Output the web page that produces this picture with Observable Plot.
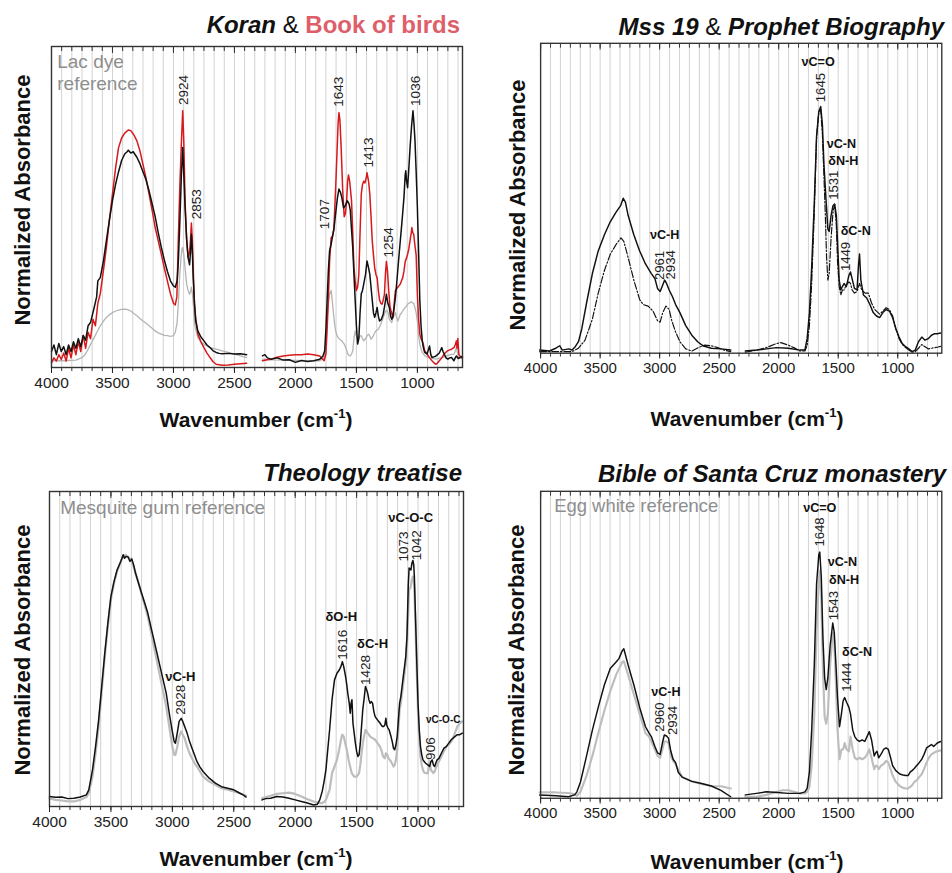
<!DOCTYPE html>
<html><head><meta charset="utf-8">
<script src="https://cdn.jsdelivr.net/npm/d3@7"></script>
<script src="https://cdn.jsdelivr.net/npm/@observablehq/plot@0.6"></script>
<style>
html,body{margin:0;padding:0;overflow:hidden;background:#fff;}
#root{position:relative;width:952px;height:873px;overflow:hidden;font-family:"Liberation Sans",Arial,sans-serif;color:#111;}
.title{position:absolute;font-weight:bold;font-style:italic;font-size:24px;white-space:nowrap;line-height:1;}
.title .amp{font-weight:normal;font-style:normal;}
.title .red{color:#de5f69;font-style:normal;}
.xtitle{position:absolute;font-weight:bold;font-size:21px;white-space:nowrap;line-height:1;transform:translate(-50%,-50%);}
.xtitle sup{font-size:13px;vertical-align:9px;line-height:0;}
.ytitle{position:absolute;font-weight:bold;font-size:22px;white-space:nowrap;line-height:1;transform:translate(-50%,-50%) rotate(-90deg);}
.panel{position:absolute;}
</style></head><body><div id="root"></div>
<script>
// ---------- ticks ----------
const majorTicks = [4000, 3500, 3000, 2500, 2000, 1500, 1000];
const minorTicks = d3.range(4000, 625, -500 / 6);
const tickLabels = majorTicks.map(String);

// ---------- Panel 1: Koran & Book of birds (wavenumber, normalized absorbance) ----------
const koran = [[4000,.05],[3980,.07],[3960,.04],[3940,.075],[3920,.05],[3900,.065],[3880,.04],[3860,.07],[3840,.05],[3820,.08],[3800,.06],[3780,.09],[3760,.065],[3740,.1],[3720,.085],[3700,.13],[3680,.14],[3650,.187],[3630,.22],[3620,.27],[3600,.28],[3575,.33],[3550,.395],[3525,.46],[3500,.52],[3475,.57],[3450,.61],[3425,.645],[3400,.665],[3380,.672],[3370,.677],[3350,.668],[3330,.672],[3300,.655],[3275,.635],[3250,.61],[3225,.585],[3200,.55],[3175,.51],[3150,.47],[3125,.42],[3100,.375],[3075,.335],[3050,.30],[3025,.27],[3000,.254],[2985,.25],[2970,.27],[2960,.33],[2948,.45],[2935,.6],[2924,.685],[2915,.6],[2905,.5],[2892,.4],[2880,.343],[2868,.32],[2860,.36],[2853,.415],[2846,.37],[2838,.28],[2828,.2],[2818,.145],[2800,.114],[2775,.095],[2750,.083],[2725,.07],[2700,.062],[2675,.052],[2650,.047],[2625,.044],[2600,.043],[2550,.044],[2500,.042],[2450,.043],[2400,.040],
 [2270,.036],[2250,.04],[2230,.03],[2200,.026],[2150,.03],[2100,.023],[2050,.024],[2000,.016],[1950,.022],[1900,.019],[1850,.021],[1800,.026],[1775,.035],[1760,.052],[1750,.12],[1740,.21],[1730,.3],[1720,.363],[1707,.384],[1695,.41],[1685,.43],[1670,.48],[1655,.53],[1643,.556],[1630,.545],[1620,.53],[1605,.497],[1590,.505],[1575,.52],[1560,.51],[1550,.49],[1540,.43],[1530,.374],[1520,.29],[1510,.21],[1500,.13],[1490,.073],[1480,.09],[1470,.17],[1460,.23],[1450,.24],[1440,.26],[1425,.29],[1413,.332],[1400,.31],[1390,.29],[1380,.25],[1370,.21],[1360,.17],[1350,.156],[1340,.17],[1330,.187],[1320,.16],[1310,.145],[1295,.15],[1280,.166],[1265,.2],[1254,.228],[1242,.2],[1230,.187],[1220,.16],[1210,.15],[1200,.16],[1190,.187],[1180,.22],[1170,.26],[1155,.33],[1140,.395],[1125,.46],[1110,.53],[1100,.6],[1095,.613],[1088,.58],[1080,.56],[1070,.62],[1060,.685],[1048,.75],[1036,.80],[1028,.76],[1020,.71],[1010,.61],[1000,.5],[990,.36],[980,.21],[970,.13],[960,.083],[950,.06],[940,.047],[920,.042],[910,.055],[900,.067],[890,.04],[880,.031],[865,.033],[850,.035],[835,.04],[820,.045],[800,.062],[790,.05],[780,.042],[765,.03],[750,.026],[735,.03],[720,.031],[700,.021],[690,.03],[680,.036],[665,.028],[650,.031],[630,.035]];
const birds = [[4000,.015],[3980,.03],[3960,.02],[3940,.04],[3920,.025],[3900,.045],[3880,.02],[3860,.06],[3840,.03],[3820,.07],[3800,.04],[3780,.08],[3760,.05],[3740,.1],[3720,.06],[3700,.11],[3680,.09],[3660,.15],[3640,.13],[3620,.2],[3600,.23],[3575,.3],[3550,.374],[3525,.46],[3500,.54],[3475,.62],[3450,.685],[3425,.715],[3400,.73],[3370,.74],[3350,.738],[3325,.725],[3300,.706],[3275,.675],[3250,.633],[3225,.59],[3200,.54],[3175,.49],[3150,.436],[3125,.395],[3100,.353],[3075,.31],[3050,.27],[3025,.23],[3000,.2],[2985,.195],[2972,.22],[2960,.4],[2948,.56],[2935,.7],[2924,.80],[2915,.7],[2905,.52],[2892,.4],[2880,.343],[2868,.36],[2860,.4],[2853,.45],[2846,.4],[2838,.3],[2828,.2],[2818,.156],[2800,.104],[2775,.08],[2750,.062],[2725,.045],[2700,.031],[2675,.018],[2650,.01],[2600,.007],[2550,.008],[2500,.01],[2450,.012],[2400,.013],
 [2270,.021],[2230,.024],[2200,.026],[2150,.032],[2100,.036],[2050,.038],[2000,.04],[1950,.04],[1900,.042],[1850,.04],[1800,.036],[1775,.025],[1765,.021],[1750,.042],[1740,.12],[1730,.21],[1720,.33],[1707,.404],[1695,.41],[1685,.43],[1670,.56],[1658,.68],[1650,.76],[1643,.794],[1635,.77],[1625,.685],[1612,.55],[1600,.47],[1590,.48],[1580,.52],[1572,.58],[1565,.6],[1555,.58],[1550,.56],[1540,.52],[1530,.42],[1520,.31],[1510,.27],[1500,.24],[1490,.25],[1480,.29],[1470,.42],[1460,.54],[1450,.57],[1440,.58],[1430,.575],[1420,.59],[1413,.607],[1400,.58],[1390,.54],[1380,.47],[1370,.395],[1360,.35],[1350,.31],[1340,.29],[1330,.28],[1320,.24],[1310,.21],[1300,.2],[1290,.197],[1280,.21],[1270,.228],[1262,.29],[1254,.33],[1245,.3],[1235,.24],[1225,.19],[1215,.175],[1200,.155],[1190,.2],[1180,.24],[1170,.245],[1160,.25],[1150,.255],[1140,.26],[1130,.27],[1120,.28],[1110,.3],[1100,.33],[1090,.34],[1080,.353],[1070,.37],[1060,.395],[1050,.42],[1045,.436],[1038,.42],[1030,.415],[1020,.38],[1010,.35],[1000,.228],[990,.15],[980,.104],[970,.09],[960,.083],[950,.07],[940,.052],[920,.042],[900,.03],[880,.021],[865,.015],[850,.01],[835,.014],[820,.021],[800,.03],[780,.042],[760,.05],[740,.054],[720,.057],[700,.062],[690,.07],[680,.083],[675,.06],[668,.09],[660,.042],[650,.035],[640,.03],[630,.03]];
const lacDye = [[4000,.021],[3900,.021],[3800,.023],[3750,.031],[3725,.04],[3700,.057],[3675,.075],[3650,.093],[3625,.112],[3600,.13],[3575,.144],[3550,.156],[3525,.164],[3500,.171],[3475,.176],[3450,.179],[3425,.181],[3400,.182],[3375,.18],[3350,.176],[3325,.168],[3300,.161],[3275,.153],[3250,.145],[3225,.138],[3200,.13],[3175,.122],[3150,.114],[3125,.108],[3100,.104],[3075,.1],[3050,.099],[3025,.097],[3000,.099],[2985,.11],[2970,.14],[2960,.2],[2950,.28],[2940,.333],[2930,.37],[2924,.374],[2915,.35],[2905,.31],[2892,.26],[2880,.24],[2868,.228],[2860,.235],[2853,.25],[2846,.235],[2838,.2],[2828,.14],[2818,.12],[2800,.093],[2775,.08],[2750,.073],[2700,.062],[2650,.057],[2600,.052],[2550,.047],[2500,.042],[2450,.036],[2400,.031],
 [2270,.026],[2200,.024],[2100,.023],[2000,.022],[1900,.021],[1800,.021],[1770,.028],[1760,.042],[1750,.09],[1740,.155],[1730,.2],[1720,.228],[1707,.24],[1698,.21],[1690,.176],[1680,.14],[1670,.114],[1660,.1],[1650,.093],[1635,.087],[1620,.083],[1600,.073],[1585,.06],[1570,.042],[1560,.037],[1550,.036],[1540,.042],[1530,.052],[1520,.09],[1510,.114],[1500,.099],[1490,.093],[1480,.093],[1470,.098],[1460,.099],[1450,.09],[1440,.083],[1430,.088],[1420,.093],[1410,.1],[1400,.104],[1390,.098],[1380,.088],[1370,.093],[1360,.099],[1350,.108],[1340,.114],[1320,.119],[1300,.135],[1280,.156],[1270,.166],[1260,.176],[1250,.178],[1240,.171],[1230,.15],[1220,.145],[1210,.14],[1200,.156],[1190,.163],[1180,.171],[1170,.155],[1160,.145],[1150,.155],[1140,.166],[1130,.17],[1120,.176],[1110,.182],[1100,.187],[1090,.19],[1080,.197],[1070,.2],[1060,.202],[1050,.205],[1040,.202],[1030,.199],[1020,.187],[1010,.17],[1000,.145],[990,.1],[980,.073],[970,.058],[960,.047],[940,.037],[920,.033],[900,.031],[850,.026],[800,.031],[760,.036],[730,.04],[700,.042],[690,.05],[680,.062],[670,.045],[660,.032],[650,.031],[630,.03]];
const koranPeaks = [[2920,.818,"2924"],[2810,.462,"2853"],[1760,.431,"1707"],[1642,.812,"1643"],[1396,.623,"1413"],[1232,.343,"1254"],[1013,.815,"1036"]];
const koranRef = [[3953,.92,"Lac dye\nreference"]];

// ---------- Panel 2: Mss 19 (solid) & Prophet Biography (dash-dot) ----------
const mss19 = [[4008,.01],[3926,.007],[3872,.016],[3839,.024],[3818,.01],[3763,.014],[3736,.01],[3709,.021],[3682,.037],[3654,.079],[3614,.162],[3565,.257],[3516,.33],[3464,.382],[3415,.424],[3366,.455],[3328,.476],[3306,.50],[3287,.487],[3265,.445],[3217,.382],[3168,.33],[3119,.288],[3070,.257],[3040,.241],[3018,.209],[2996,.199],[2974,.22],[2958,.236],[2942,.225],[2920,.204],[2893,.183],[2866,.157],[2830,.131],[2781,.089],[2730,.058],[2681,.037],[2632,.023],[2566,.016],[2485,.014],[2403,.01],
 [2281,.007],[2186,.01],[2104,.014],[2020,.018],[1919,.016],[1821,.01],[1780,.01],[1761,.047],[1742,.13],[1723,.277],[1701,.487],[1682,.70],[1663,.78],[1647,.796],[1633,.738],[1620,.61],[1601,.487],[1587,.40],[1576,.393],[1560,.445],[1544,.476],[1530,.481],[1516,.445],[1506,.36],[1492,.236],[1478,.204],[1465,.215],[1451,.225],[1432,.215],[1410,.251],[1397,.262],[1383,.24],[1364,.209],[1342,.204],[1329,.288],[1321,.32],[1310,.236],[1288,.188],[1261,.178],[1234,.157],[1206,.131],[1179,.12],[1152,.115],[1125,.131],[1098,.141],[1070,.136],[1043,.115],[1016,.079],[989,.052],[962,.031],[934,.021],[907,.014],[880,.005],[853,.01],[826,.037],[798,.052],[771,.042],[744,.047],[717,.058],[690,.063],[668,.063],[640,.065]];
const prophet = [[4008,.005],[3790,.005],[3736,.005],[3682,.016],[3627,.042],[3565,.11],[3516,.194],[3464,.267],[3415,.319],[3366,.351],[3325,.372],[3301,.361],[3265,.309],[3217,.236],[3168,.173],[3138,.157],[3097,.152],[3056,.136],[3018,.105],[2996,.1],[2974,.131],[2947,.152],[2920,.141],[2898,.105],[2866,.068],[2830,.037],[2781,.014],[2730,.007],[2675,.018],[2621,.026],[2566,.024],[2512,.018],[2458,.01],[2403,.005],
 [2281,.003],[2186,.01],[2104,.018],[2020,.031],[1982,.034],[1919,.026],[1873,.018],[1821,.007],[1780,.007],[1761,.026],[1742,.089],[1723,.225],[1701,.455],[1682,.696],[1663,.78],[1647,.785],[1633,.707],[1620,.57],[1609,.455],[1598,.31],[1587,.236],[1576,.257],[1560,.372],[1544,.455],[1530,.481],[1516,.414],[1506,.298],[1492,.215],[1478,.188],[1465,.204],[1451,.204],[1432,.22],[1410,.23],[1397,.225],[1383,.204],[1364,.194],[1342,.199],[1321,.225],[1302,.204],[1274,.194],[1247,.194],[1220,.162],[1193,.141],[1152,.126],[1125,.136],[1098,.147],[1070,.141],[1043,.12],[1016,.079],[989,.047],[962,.028],[934,.018],[907,.01],[880,.003],[853,.005],[826,.016],[798,.028],[771,.021],[744,.014],[717,.016],[690,.018],[660,.02],[640,.022]];
const mssPeaks = [[1647,.81,"1645"],[1533,.495,"1531"],[1438,.265,"1449"],[3002,.236,"2961"],[2906,.238,"2934"]];
const mssBands = [[1669,.94,"νC=O"],[1473,.675,"νC-N"],[1457,.62,"δN-H"],[1353,.396,"δC-N"],[2958,.38,"νC-H"]];

// ---------- Panel 3: Theology treatise (black) & Mesquite gum reference (grey) ----------
const theology = [[4000,.032],[3950,.029],[3900,.03],[3850,.025],[3800,.026],[3750,.03],[3700,.037],[3680,.053],[3650,.116],[3625,.19],[3600,.275],[3575,.381],[3550,.487],[3525,.582],[3500,.667],[3475,.714],[3450,.751],[3420,.778],[3400,.799],[3390,.788],[3375,.794],[3360,.792],[3345,.778],[3330,.786],[3315,.767],[3300,.741],[3275,.709],[3250,.677],[3225,.646],[3200,.614],[3175,.571],[3150,.529],[3125,.487],[3100,.444],[3075,.402],[3050,.36],[3025,.296],[3000,.238],[2985,.206],[2975,.201],[2960,.233],[2945,.27],[2928,.28],[2915,.27],[2900,.254],[2880,.233],[2860,.206],[2840,.185],[2820,.164],[2800,.143],[2775,.125],[2750,.111],[2700,.09],[2650,.074],[2600,.063],[2550,.058],[2500,.053],[2450,.042],[2420,.036],[2400,.03],
 [2270,.021],[2240,.025],[2200,.026],[2150,.032],[2100,.03],[2050,.026],[2000,.021],[1950,.016],[1900,.011],[1850,.005],[1820,.007],[1800,.021],[1780,.048],[1765,.079],[1750,.116],[1735,.18],[1720,.243],[1700,.339],[1680,.402],[1660,.423],[1640,.434],[1628,.444],[1616,.46],[1605,.444],[1590,.413],[1580,.386],[1570,.354],[1560,.328],[1552,.296],[1545,.328],[1538,.339],[1530,.265],[1520,.233],[1510,.201],[1500,.175],[1490,.159],[1480,.164],[1470,.201],[1460,.254],[1450,.307],[1440,.339],[1428,.381],[1418,.37],[1410,.36],[1400,.339],[1390,.328],[1380,.333],[1370,.328],[1360,.302],[1350,.286],[1340,.28],[1330,.275],[1320,.27],[1310,.265],[1300,.259],[1290,.254],[1280,.254],[1270,.259],[1262,.28],[1255,.259],[1245,.249],[1235,.243],[1220,.222],[1210,.206],[1200,.185],[1190,.18],[1180,.196],[1170,.222],[1160,.275],[1150,.328],[1140,.349],[1130,.381],[1120,.413],[1110,.444],[1100,.476],[1090,.54],[1080,.698],[1073,.757],[1065,.754],[1058,.751],[1050,.772],[1042,.781],[1035,.767],[1030,.73],[1020,.593],[1010,.455],[1000,.328],[990,.243],[980,.19],[970,.164],[960,.148],[950,.143],[940,.138],[920,.132],[906,.127],[895,.143],[885,.148],[875,.132],[865,.127],[855,.138],[845,.148],[830,.153],[810,.169],[790,.185],[770,.19],[750,.201],[730,.212],[715,.217],[700,.222],[680,.228],[660,.228],[640,.233]];
const mesquite = [[4000,.026],[3950,.021],[3900,.019],[3850,.016],[3800,.016],[3750,.021],[3700,.03],[3680,.042],[3650,.095],[3625,.169],[3600,.254],[3575,.365],[3550,.476],[3525,.571],[3500,.656],[3475,.709],[3450,.746],[3425,.772],[3400,.794],[3380,.799],[3360,.792],[3340,.786],[3320,.767],[3300,.741],[3275,.709],[3250,.672],[3225,.64],[3200,.603],[3175,.556],[3150,.508],[3125,.46],[3100,.413],[3075,.365],[3050,.317],[3025,.254],[3000,.19],[2985,.164],[2975,.164],[2960,.19],[2945,.222],[2928,.238],[2915,.228],[2900,.217],[2880,.19],[2860,.169],[2840,.153],[2820,.138],[2800,.127],[2775,.111],[2750,.095],[2700,.079],[2650,.069],[2600,.058],[2550,.053],[2500,.048],[2450,.042],[2400,.034],
 [2270,.026],[2240,.03],[2200,.034],[2150,.04],[2100,.042],[2050,.044],[2000,.04],[1950,.032],[1900,.023],[1850,.016],[1800,.011],[1780,.011],[1760,.016],[1750,.021],[1735,.037],[1720,.053],[1700,.106],[1680,.127],[1660,.148],[1640,.185],[1625,.217],[1616,.228],[1605,.222],[1590,.196],[1580,.18],[1565,.148],[1550,.122],[1540,.106],[1520,.095],[1500,.095],[1490,.1],[1480,.106],[1470,.132],[1460,.169],[1450,.201],[1440,.222],[1428,.243],[1418,.238],[1410,.233],[1400,.228],[1390,.222],[1370,.217],[1350,.212],[1330,.201],[1310,.19],[1295,.175],[1285,.159],[1270,.153],[1262,.169],[1250,.164],[1240,.153],[1220,.143],[1200,.127],[1190,.132],[1180,.148],[1170,.18],[1160,.243],[1150,.307],[1140,.328],[1130,.36],[1120,.392],[1110,.423],[1100,.455],[1090,.519],[1080,.614],[1073,.688],[1065,.693],[1060,.698],[1050,.72],[1042,.73],[1035,.72],[1030,.688],[1020,.561],[1010,.423],[1000,.296],[990,.212],[980,.159],[970,.132],[960,.116],[950,.108],[940,.106],[920,.106],[906,.143],[895,.116],[885,.111],[875,.106],[865,.111],[850,.127],[830,.143],[810,.159],[790,.175],[770,.19],[750,.196],[730,.206],[715,.217],[700,.233],[680,.254],[660,.265],[640,.27]];
const theologyRef = [[3913,.952,"Mesquite gum reference"]];
const theologyPeaks = [[2935,.291,"2928"],[1610,.466,"1616"],[1425,.386,"1428"],[1115,.778,"1073"],[1012,.782,"1042"],[898,.148,"906"]];
const theologyBands = [[2935,.413,"νC-H"],[1625,.603,"δO-H"],[1370,.516,"δC-H"],[1060,.915,"νC-O-C"]];
const theologySmallBands = [[795,.275,"νC-O-C"]];

// ---------- Panel 4: Bible of Santa Cruz monastery (black) & Egg white reference (grey) ----------
const bible = [[4008,.011],[3872,.008],[3766,.005],[3714,.011],[3695,.021],[3665,.053],[3614,.138],[3565,.222],[3516,.296],[3464,.37],[3415,.423],[3366,.444],[3342,.455],[3314,.481],[3301,.487],[3265,.434],[3217,.37],[3168,.296],[3119,.233],[3089,.212],[3070,.201],[3040,.169],[3018,.148],[2996,.143],[2977,.18],[2961,.206],[2942,.203],[2926,.196],[2906,.153],[2887,.127],[2866,.116],[2844,.085],[2811,.069],[2730,.055],[2648,.048],[2566,.04],[2485,.026],[2403,.005],
 [2281,.011],[2186,.016],[2104,.021],[2014,.019],[1919,.016],[1821,.016],[1780,.021],[1761,.032],[1742,.085],[1723,.222],[1701,.434],[1682,.698],[1663,.794],[1655,.802],[1642,.72],[1628,.518],[1614,.392],[1601,.354],[1587,.392],[1568,.497],[1546,.571],[1533,.54],[1519,.434],[1506,.328],[1489,.233],[1473,.275],[1459,.317],[1446,.328],[1429,.312],[1410,.296],[1397,.275],[1378,.222],[1361,.201],[1342,.19],[1321,.185],[1299,.19],[1277,.185],[1258,.201],[1239,.217],[1220,.19],[1198,.138],[1185,.148],[1174,.153],[1160,.132],[1141,.143],[1119,.159],[1098,.164],[1079,.159],[1060,.132],[1043,.106],[1016,.09],[983,.079],[956,.076],[934,.074],[913,.074],[896,.085],[880,.09],[861,.097],[842,.106],[820,.116],[798,.127],[779,.143],[758,.164],[739,.169],[717,.175],[698,.169],[681,.175],[668,.18],[640,.185]];
const eggWhite = [[4008,.019],[3872,.019],[3766,.017],[3714,.013],[3695,.008],[3665,.021],[3614,.074],[3565,.138],[3516,.212],[3464,.286],[3415,.349],[3366,.402],[3314,.444],[3301,.447],[3265,.402],[3217,.339],[3168,.275],[3119,.212],[3089,.201],[3070,.185],[3040,.159],[3018,.138],[2996,.132],[2977,.159],[2961,.185],[2942,.185],[2926,.18],[2906,.138],[2887,.122],[2866,.111],[2811,.069],[2730,.055],[2648,.047],[2566,.04],[2485,.039],[2403,.032],
 [2281,.005],[2186,.005],[2104,.011],[2014,.021],[1968,.026],[1919,.026],[1821,.016],[1780,.016],[1761,.021],[1742,.037],[1723,.106],[1701,.275],[1682,.54],[1663,.709],[1655,.741],[1642,.646],[1628,.413],[1614,.265],[1601,.243],[1587,.275],[1568,.434],[1546,.54],[1533,.508],[1519,.37],[1506,.222],[1489,.127],[1473,.159],[1459,.159],[1446,.18],[1429,.159],[1410,.153],[1397,.201],[1378,.159],[1361,.132],[1342,.127],[1321,.132],[1299,.127],[1277,.132],[1258,.143],[1239,.159],[1220,.132],[1198,.095],[1185,.106],[1174,.106],[1160,.095],[1141,.106],[1119,.111],[1098,.122],[1079,.116],[1060,.095],[1043,.074],[1016,.053],[983,.04],[956,.034],[934,.032],[913,.032],[896,.037],[880,.042],[861,.053],[842,.058],[820,.069],[798,.079],[779,.095],[758,.116],[739,.132],[717,.143],[698,.148],[668,.153],[640,.156]];
const bibleRef = [[3886,.955,"Egg white reference"]];
const biblePeaks = [[1655,.82,"1648"],[1541,.58,"1543"],[1424,.347,"1444"],[2996,.217,"2960"],[2893,.206,"2934"]];
const bibleBands = [[1655,.947,"νC=O"],[1465,.77,"νC-N"],[1451,.711,"δN-H"],[1342,.478,"δC-N"],[2947,.347,"νC-H"]];

// ---------- drawing ----------
const FONT = "'Liberation Sans', Arial, sans-serif";
const seg = d => (d[0] > 2335 ? 0 : 1);
const root = document.getElementById("root");

function line(data, stroke, strokeWidth, extra = {}) {
  return Plot.line(data, {x: d => d[0], y: d => d[1], z: seg, stroke, strokeWidth, strokeLinejoin: "round", ...extra});
}
function peakText(data) {
  return Plot.text(data, {x: d => d[0], y: d => d[1], text: d => d[2], rotate: -90, textAnchor: "start", fontSize: 13.5, fill: "#222"});
}
function bandText(data, size = 13) {
  return Plot.text(data, {x: d => d[0], y: d => d[1], text: d => d[2], fontWeight: "bold", fontSize: size, fill: "#111"});
}
function refText(data) {
  return Plot.text(data, {x: d => d[0], y: d => d[1], text: d => d[2], textAnchor: "start", fontSize: 19, lineHeight: 1.15, fill: "#8e8e8e"});
}

function addDiv(cls, style, html) {
  const el = document.createElement("div");
  el.className = cls;
  Object.assign(el.style, style);
  el.innerHTML = html;
  root.appendChild(el);
  return el;
}

function panel(cfg) {
  const chart = Plot.plot({
    width: cfg.width, height: cfg.height,
    marginLeft: cfg.ml, marginRight: cfg.mr, marginTop: cfg.mt, marginBottom: cfg.mb,
    x: {domain: [4000, 630], label: null},
    y: {domain: [0, 1], axis: null},
    style: {fontFamily: FONT, background: "transparent", overflow: "visible"},
    marks: [
      Plot.gridX(minorTicks, {stroke: "#d2d2d2", strokeOpacity: 1, strokeWidth: 1}),
      ...cfg.marks,
      Plot.frame({stroke: "#333", strokeWidth: 1.4}),
      Plot.axisX(minorTicks, {anchor: "bottom", tickSize: 4, tickFormat: () => "", label: null, stroke: "#333"}),
      Plot.axisX(minorTicks, {anchor: "top", tickSize: -4, tickFormat: () => "", label: null, stroke: "#333"}),
      Plot.axisX(majorTicks, {anchor: "top", tickSize: -6, tickFormat: () => "", label: null, stroke: "#333"}),
      Plot.axisX(majorTicks, {anchor: "bottom", tickSize: 6, tickPadding: 3, fontSize: 15.5, tickFormat: (d, i) => tickLabels[i], label: null, color: "#222"})
    ]
  });
  const box = addDiv("panel", {left: cfg.left + "px", top: cfg.top + "px"}, "");
  box.appendChild(chart);
  addDiv("title", {right: cfg.titleRight + "px", top: cfg.titleTop + "px"}, cfg.title);
  addDiv("xtitle", {left: cfg.xtX + "px", top: cfg.xtY + "px"}, "Wavenumber (cm<sup>-1</sup>)");
  addDiv("ytitle", {left: cfg.ytX + "px", top: cfg.ytY + "px"}, "Normalized Absorbance");
}

panel({
  left: 0, top: 40, width: 476, height: 370, ml: 51, mr: 14, mt: 6, mb: 43,
  title: 'Koran <span class="amp">&amp;</span> <span class="red">Book of birds</span>', titleRight: 492, titleTop: 13,
  xtX: 256, xtY: 419, ytX: 23, ytY: 200,
  marks: [line(lacDye, "#b4b4b4", 1.3), line(birds, "#d7191c", 1.5), line(koran, "#111", 1.5),
    peakText(koranPeaks), refText(koranRef)]
});
panel({
  left: 476, top: 37, width: 490, height: 370, ml: 66, mr: 11, mt: 6, mb: 45,
  title: 'Mss 19 <span class="amp">&amp;</span> Prophet Biography', titleRight: 8, titleTop: 15,
  xtX: 747, xtY: 418, ytX: 518, ytY: 205,
  marks: [line(prophet, "#111", 1.2, {strokeDasharray: "7 2 1.5 2"}), line(mss19, "#111", 1.5),
    peakText(mssPeaks), bandText(mssBands)]
});
panel({
  left: 0, top: 485, width: 476, height: 360, ml: 49, mr: 13, mt: 6, mb: 39,
  title: 'Theology treatise', titleRight: 490, titleTop: 461,
  xtX: 256, xtY: 858, ytX: 23, ytY: 650,
  marks: [line(mesquite, "#bdbdbd", 2.2), line(theology, "#111", 1.5),
    peakText(theologyPeaks), bandText(theologyBands), bandText(theologySmallBands, 10), refText(theologyRef)]
});
panel({
  left: 476, top: 485, width: 490, height: 360, ml: 66, mr: 11, mt: 6, mb: 38,
  title: 'Bible of Santa Cruz monastery', titleRight: 6, titleTop: 462,
  xtX: 747, xtY: 861, ytX: 517, ytY: 650,
  marks: [line(eggWhite, "#bdbdbd", 2.2), line(bible, "#111", 1.5),
    peakText(biblePeaks), bandText(bibleBands), refText(bibleRef)]
});
</script></body></html>
